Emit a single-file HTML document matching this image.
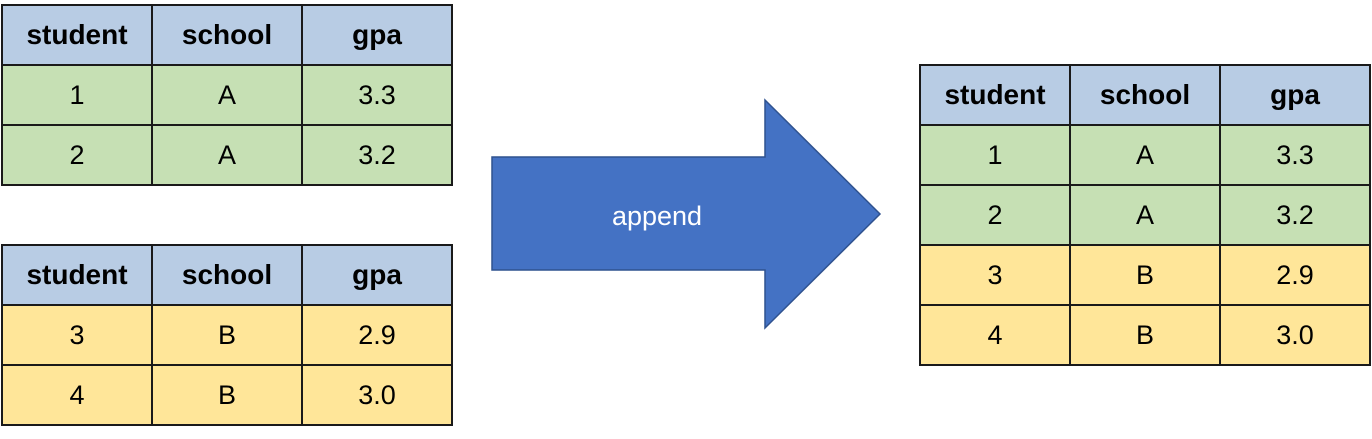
<!DOCTYPE html>
<html><head><style>
body{margin:0;width:1372px;height:439px;background:#fff;position:relative;overflow:hidden;font-family:"Liberation Sans",sans-serif}
table{position:absolute;border-collapse:collapse}
td{border:2px solid #1a1a1a;width:148px;height:58px;text-align:center;font-size:27px;color:#000;padding:0}
.h td{background:#b8cce4;font-weight:bold;font-size:28px}
.g td{background:#c6e0b4}
.y td{background:#ffe699}
</style></head><body>
<table style="left:1px;top:4px">
<tr class="h"><td>student</td><td>school</td><td>gpa</td></tr>
<tr class="g"><td>1</td><td>A</td><td>3.3</td></tr>
<tr class="g"><td>2</td><td>A</td><td>3.2</td></tr>
</table>
<table style="left:1px;top:244px">
<tr class="h"><td>student</td><td>school</td><td>gpa</td></tr>
<tr class="y"><td>3</td><td>B</td><td>2.9</td></tr>
<tr class="y"><td>4</td><td>B</td><td>3.0</td></tr>
</table>
<table style="left:919px;top:64px">
<tr class="h"><td>student</td><td>school</td><td>gpa</td></tr>
<tr class="g"><td>1</td><td>A</td><td>3.3</td></tr>
<tr class="g"><td>2</td><td>A</td><td>3.2</td></tr>
<tr class="y"><td>3</td><td>B</td><td>2.9</td></tr>
<tr class="y"><td>4</td><td>B</td><td>3.0</td></tr>
</table>
<svg style="position:absolute;left:0;top:0" width="1372" height="439">
<polygon points="492,157 765,157 765,100 880,214 765,328 765,270 492,270" fill="#4472c4" stroke="#2f528f" stroke-width="1.5"/>
<text x="657" y="225" text-anchor="middle" fill="#fff" font-family="Liberation Sans, sans-serif" font-size="27">append</text>
</svg>
</body></html>
